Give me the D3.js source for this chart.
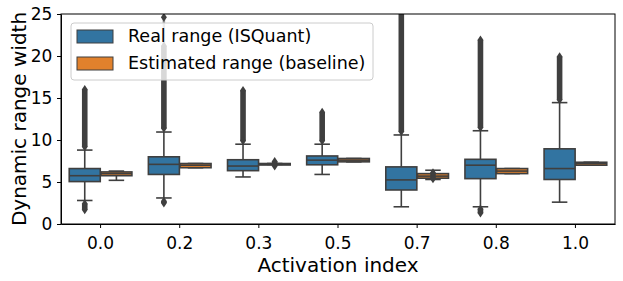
<!DOCTYPE html>
<html>
<head>
<meta charset="utf-8">
<script src="https://cdn.jsdelivr.net/npm/d3@7"></script>
<style>
  body { margin: 0; background: #fff; }
  svg { font-family: "DejaVu Sans", sans-serif; }
</style>
</head>
<body>
<div class="main"></div>
<script>
// activation index categories
const categories = ["0.0", "0.2", "0.3", "0.5", "0.7", "0.8", "1.0"];
const seriesNames = ["Real range (ISQuant)", "Estimated range (baseline)"];
const yTicks = [0, 5, 10, 15, 20, 25];

// box stats: [whiskerLow, q1, median, q3, whiskerHigh]
const realBoxes = [
  [2.8, 5.05, 5.75, 6.6, 8.8],
  [3.1, 5.9, 7.1, 8.0, 10.95],
  [5.6, 6.35, 6.9, 7.65, 9.5],
  [5.9, 7.05, 7.6, 8.1, 9.5],
  [2.05, 4.05, 5.25, 6.8, 10.6],
  [2.05, 5.4, 7.0, 7.7, 11.1],
  [2.6, 5.3, 6.6, 8.95, 14.45]
];
const estBoxes = [
  [5.2, 5.75, 6.0, 6.2, 6.3],
  [6.7, 6.7, 7.0, 7.2, 7.2],
  [7.1, 7.1, 7.15, 7.2, 7.2],
  [7.4, 7.4, 7.6, 7.8, 7.8],
  [5.3, 5.45, 5.7, 6.0, 6.4],
  [6.0, 6.0, 6.3, 6.6, 6.6],
  [7.0, 7.0, 7.2, 7.35, 7.35]
];
// dense outlier extents [lowest, highest] (null = none)
const realOutHigh = [[9.2, 16.0], [11.4, 21.2], [9.9, 15.9], [9.9, 13.3], [11.0, 27], [11.5, 21.9], [14.8, 19.9]];
const realOutLow = [[1.7, 2.4], [2.5, 2.7], null, null, null, [1.3, 1.8], null];
const estOutliers = [null, null, [6.9, 7.45], null, [5.4, 6.1], null, null];
// isolated far outliers
const realFar = [null, 24.6, null, null, null, null, null];

const w = 623, h = 281;
const mLeft = 61, mRight = 615, mTop = 14, mBottom = 224;
const colors = ["#3274a1", "#e1812c"];
const edge = "#3f3f3f";

const svg = d3.select(".main").append("svg").attr("width", w).attr("height", h);

const x = d3.scaleBand().domain(categories).range([mLeft, mRight]);
const y = d3.scaleLinear().domain([0, 25]).range([mBottom, mTop]);
const bw = x.bandwidth();
const boxW = bw * 0.4 * 0.98;

svg.append("defs").append("clipPath").attr("id", "plot")
  .append("rect").attr("x", mLeft).attr("y", mTop).attr("width", mRight - mLeft).attr("height", mBottom - mTop);

const plot = svg.append("g").attr("clip-path", "url(#plot)");

function diamond(g, cx, v) {
  const cy = y(v);
  g.append("path")
    .attr("d", `M${cx},${cy - 4.5}L${cx + 3},${cy}L${cx},${cy + 4.5}L${cx - 3},${cy}Z`)
    .attr("fill", edge);
}

function outlierStrip(g, cx, range) {
  if (!range) return;
  g.append("rect")
    .attr("x", cx - 2.8).attr("width", 5.6)
    .attr("y", y(range[1])).attr("height", y(range[0]) - y(range[1]))
    .attr("fill", edge);
  diamond(g, cx, range[0]);
  diamond(g, cx, range[1]);
}

function drawBox(stats, cx, color) {
  const [wl, q1, med, q3, wh] = stats;
  const g = plot.append("g");
  g.append("line").attr("x1", cx).attr("x2", cx).attr("y1", y(wl)).attr("y2", y(q1))
    .attr("stroke", edge).attr("stroke-width", 1.6);
  g.append("line").attr("x1", cx).attr("x2", cx).attr("y1", y(q3)).attr("y2", y(wh))
    .attr("stroke", edge).attr("stroke-width", 1.6);
  [wl, wh].forEach(v => {
    g.append("line").attr("x1", cx - boxW / 4).attr("x2", cx + boxW / 4)
      .attr("y1", y(v)).attr("y2", y(v)).attr("stroke", edge).attr("stroke-width", 1.6);
  });
  g.append("rect")
    .attr("x", cx - boxW / 2).attr("width", boxW)
    .attr("y", y(q3)).attr("height", Math.max(y(q1) - y(q3), 1.5))
    .attr("fill", color).attr("stroke", edge).attr("stroke-width", 1.6);
  g.append("line").attr("x1", cx - boxW / 2).attr("x2", cx + boxW / 2)
    .attr("y1", y(med)).attr("y2", y(med)).attr("stroke", edge).attr("stroke-width", 1.6);
  return g;
}

categories.forEach((c, i) => {
  const mid = x(c) + bw / 2;
  const cb = mid - bw * 0.2, co = mid + bw * 0.2;
  const gb = drawBox(realBoxes[i], cb, colors[0]);
  if (realFar[i] != null) {
    gb.append("line").attr("x1", cb).attr("x2", cb)
      .attr("y1", y(realOutHigh[i][1])).attr("y2", y(realFar[i]))
      .attr("stroke", "#9a9a9a").attr("stroke-width", 2.5);
    diamond(gb, cb, realFar[i]);
  }
  outlierStrip(gb, cb, realOutHigh[i]);
  outlierStrip(gb, cb, realOutLow[i]);
  const go = drawBox(estBoxes[i], co, colors[1]);
  outlierStrip(go, co, estOutliers[i]);
});

// axes
const xAxis = svg.append("g")
  .attr("transform", "translate(0," + mBottom + ")")
  .call(d3.axisBottom(x).tickSize(4).tickSizeOuter(0));
const yAxis = svg.append("g")
  .attr("transform", "translate(" + mLeft + ",0)")
  .call(d3.axisLeft(y).tickValues(yTicks).tickSize(4).tickSizeOuter(0));
[xAxis, yAxis].forEach(a => {
  a.selectAll("text").attr("font-size", "17px").attr("fill", "#000")
    .attr("font-family", "DejaVu Sans");
  a.selectAll("line").attr("stroke", "#000");
  a.select(".domain").attr("stroke", "#000");
});
xAxis.selectAll("text").attr("dy", "1.05em");
yAxis.selectAll("text").attr("dx", "-0.1em");

// frame
svg.append("rect")
  .attr("x", mLeft).attr("y", mTop).attr("width", mRight - mLeft).attr("height", mBottom - mTop)
  .attr("fill", "none").attr("stroke", "#000").attr("stroke-width", 1);

svg.append("text")
  .attr("x", (mLeft + mRight) / 2).attr("y", 272)
  .attr("text-anchor", "middle").attr("font-size", "20px")
  .text("Activation index");

svg.append("text")
  .attr("transform", "rotate(-90)")
  .attr("x", -(mTop + mBottom) / 2).attr("y", 26)
  .attr("text-anchor", "middle").attr("font-size", "20px")
  .text("Dynamic range width");

// legend
const lg = svg.append("g").attr("transform", "translate(71,23)");
lg.append("rect").attr("width", 302).attr("height", 57).attr("rx", 3)
  .attr("fill", "#fff").attr("fill-opacity", 0.8).attr("stroke", "#ccc");
seriesNames.forEach((s, i) => {
  lg.append("rect").attr("x", 6).attr("y", 7 + i * 27).attr("width", 36).attr("height", 13)
    .attr("fill", colors[i]).attr("stroke", edge).attr("stroke-width", 1);
  lg.append("text").attr("x", 57).attr("y", 19 + i * 27)
    .attr("font-size", "17.5px").text(s);
});
</script>
</body>
</html>
